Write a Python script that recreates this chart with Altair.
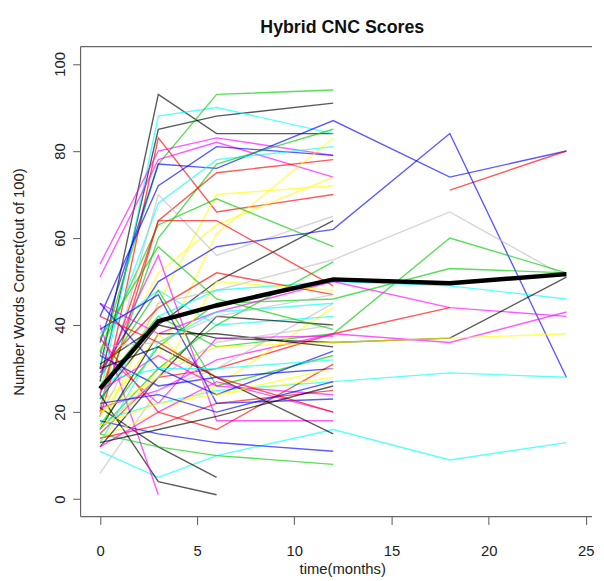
import altair as alt
import pandas as pd

# ---- data ----
times = [0, 3, 6, 12, 18, 24]

color_names = ["black", "red", "green3", "blue", "cyan", "magenta", "yellow", "gray"]
color_hex = ["#000000", "#FF0000", "#00CD00", "#0000FF", "#00FFFF", "#FF00FF", "#FFFF00", "#BEBEBE"]

subject_colors = [
    "black", "black", "cyan", "green3", "red", "magenta", "magenta", "blue", "blue", "red",
    "cyan", "green3", "red", "yellow", "yellow", "yellow", "green3", "gray", "black", "blue",
    "gray", "green3", "green3", "cyan", "magenta", "red", "black", "magenta", "yellow", "cyan",
    "cyan", "black", "black", "magenta", "magenta", "green3", "blue", "gray", "red", "yellow",
    "cyan", "black", "magenta", "black", "green3", "red", "blue", "yellow", "red", "magenta",
    "blue", "black", "green3", "red", "cyan", "yellow", "blue", "gray", "magenta", "green3",
    "yellow", "red", "blue", "cyan", "gray", "black",
]

subject_scores = [
    [30, 93, 84, 84, None, None],
    [27, 85, 88, 91, None, None],
    [24, 88, 90, 84, None, None],
    [33, 77, 93, 94, None, None],
    [20, 83, 66, 70, None, None],
    [54, 80, 83, 79, None, None],
    [51, 78, 82, 74, None, None],
    [36, 77, 76, 87, 74, 80],
    [42, 72, 81, 79, None, None],
    [None, None, None, None, 71, 80],
    [31, 68, 78, 81, None, None],
    [21, 60, 77, 85, None, None],
    [19, 64, 75, 78, None, None],
    [16, 45, 70, 72, None, None],
    [22, 33, 61, 83, None, None],
    [26, 52, 63, 74, None, None],
    [34, 63, 69, 58, None, None],
    [21, 70, 56, 65, None, None],
    [23, 40, 50, 64, None, None],
    [29, 50, 58, 62, 84, 28],
    [19, 45, 48, 55, 66, 51],
    [26, 42, 35, 38, 60, 52],
    [17, 35, 45, 46, 53, 52],
    [23, 42, 48, 50, 49, 46],
    [45, 38, 43, 50, 44, 42],
    [15, 28, 30, 38, 44, None],
    [31, 40, 37, 36, 37, 51],
    [21, 25, 32, 38, 36, 43],
    [13, 30, 35, 36, 37, 38],
    [18, 22, 25, 27, 29, 28],
    [11, 5, 10, 16, 9, 13],
    [24, 4, 1, None, None, None],
    [21, 12, 5, None, None, None],
    [40, 1, None, None, None, None],
    [28, 56, 18, 18, None, None],
    [15, 12, 10, 8, None, None],
    [18, 15, 13, 11, None, None],
    [6, 25, 30, 45, None, None],
    [24, 64, 64, 49, None, None],
    [14, 20, 26, 44, None, None],
    [38, 48, 40, 42, None, None],
    [12, 28, 42, 40, None, None],
    [34, 22, 37, 37.5, None, None],
    [16, 38, 38, 35, None, None],
    [28, 48, 26, 33, None, None],
    [37, 20, 16, 31, None, None],
    [33, 26, 28, 30, None, None],
    [19, 38, 24, 28, None, None],
    [14, 17, 22, 25, None, None],
    [25, 33, 26, 24, None, None],
    [39, 47, 22, 23, None, None],
    [30, 35, 28, 15, None, None],
    [16, 30, 40, 54.5, None, None],
    [30, 44, 52, 47, None, None],
    [13, 36, 43, 45, None, None],
    [20, 28, 50, 48, None, None],
    [45, 30, 24, 34, None, None],
    [16, 28, 36, 40, None, None],
    [12, 20, 27, 20, None, None],
    [37, 58, 46, 39, None, None],
    [17, 22, 24, 30, None, None],
    [42, 36, 28, 20, None, None],
    [22, 24, 20, 27, None, None],
    [27, 30, 30, 32, None, None],
    [35, 36, 42, 47, None, None],
    [13, 16, 19, 26, None, None],
]

mean_scores = [25.4, 40.9, 44.5, 50.5, 49.6, 51.7]

x_ticks = [0, 5, 10, 15, 20, 25]
y_ticks = [0, 20, 40, 60, 80, 100]

# ---- tables ----
rows = []
for i, (c, vals) in enumerate(zip(subject_colors, subject_scores)):
    for t, v in zip(times, vals):
        if v is not None:
            rows.append({"id": i, "time": t, "score": v, "col": c})
df = pd.DataFrame(rows)
mean_df = pd.DataFrame({"time": times, "score": mean_scores})

W, H = 518, 476
FONT = "Liberation Sans"

xscale = alt.Scale(domain=[-1, 25.32], nice=False, zero=False)
yscale = alt.Scale(domain=[-4, 104], nice=False, zero=False)

xaxis = alt.Axis(values=x_ticks, domain=False, grid=False, tickSize=8, tickColor="#555555",
                 labelFont=FONT, labelFontSize=15, labelColor="#222222", labelPadding=19,
                 labelBaseline="top", title="time(months)", titleFont=FONT, titleFontSize=15,
                 titleFontWeight="normal", titleColor="#222222", titlePadding=4,
                 titleBaseline="top", titleX=265)
yaxis = alt.Axis(values=y_ticks, domain=False, grid=False, tickSize=8, tickColor="#555555",
                 labelFont=FONT, labelFontSize=15, labelColor="#222222", labelAngle=-90,
                 labelAlign="center", labelBaseline="bottom", labelPadding=5,
                 title="Number Words Correct(out of 100)", titleFont=FONT, titleFontSize=15,
                 titleFontWeight="normal", titleColor="#222222", titlePadding=27)

lines = alt.Chart(df).mark_line(strokeWidth=1.4, opacity=0.65).encode(
    x=alt.X("time:Q", scale=xscale, axis=xaxis),
    y=alt.Y("score:Q", scale=yscale, axis=yaxis),
    color=alt.Color("col:N", scale=alt.Scale(domain=color_names, range=color_hex), legend=None),
    detail="id:N",
    order="time:Q",
)

mean_line = alt.Chart(mean_df).mark_line(strokeWidth=4.5, color="#000000").encode(
    x=alt.X("time:Q", scale=xscale),
    y=alt.Y("score:Q", scale=yscale),
    order="time:Q",
)

one = pd.DataFrame({"a": [0]})
frame_style = dict(color="#666666", strokeWidth=1.2)
top_rule = alt.Chart(one).mark_rule(**frame_style).encode(x=alt.value(0), x2=alt.value(W), y=alt.value(0))
bottom_rule = alt.Chart(one).mark_rule(**frame_style).encode(x=alt.value(0), x2=alt.value(W), y=alt.value(H))
left_rule = alt.Chart(one).mark_rule(**frame_style).encode(x=alt.value(0), y=alt.value(0), y2=alt.value(H))

chart = alt.layer(lines, mean_line, top_rule, bottom_rule, left_rule).properties(
    width=W,
    height=H,
    autosize=alt.AutoSizeParams(type="none"),
    padding={"left": 73.5, "top": 35.4, "right": 4, "bottom": 58.5},
    title=alt.TitleParams("Hybrid CNC Scores", font=FONT, fontSize=18, fontWeight="bold",
                          color="#111111", frame="group", anchor="middle", dx=6,
                          baseline="alphabetic", offset=-5),
).configure_view(stroke=None)

chart.save("out.html", embed_options={"renderer": "svg", "actions": False})
